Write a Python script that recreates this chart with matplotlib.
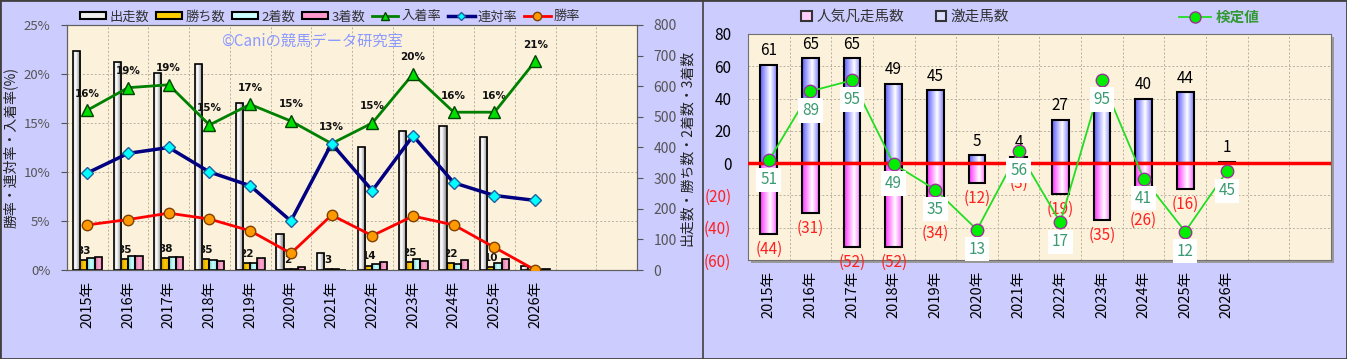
import numpy as np
import matplotlib
matplotlib.use('Agg')
import matplotlib.pyplot as plt
from matplotlib.colors import to_rgb
from matplotlib.lines import Line2D
from matplotlib.patches import Patch, Rectangle
from matplotlib.ticker import FuncFormatter, FixedLocator

plt.rcParams['font.family'] = ['Noto Sans CJK JP', 'DejaVu Sans']

BG = '#ccccff'
PLOT_BG = '#fcf2dc'
GRID = '#b8b0a0'

# ---- data ----
years = ['2015年', '2016年', '2017年', '2018年', '2019年', '2020年', '2021年',
         '2022年', '2023年', '2024年', '2025年', '2026年']
n_slots = 14

starts = [715, 680, 642, 672, 544, 118, 54, 403, 454, 471, 434, 14]
wins = [33, 35, 38, 35, 22, 2, 3, 14, 25, 22, 10, 0]
seconds = [38, 46, 42, 32, 24, 4, 4, 19, 37, 20, 23, 1]
thirds = [44, 45, 41, 30, 40, 10, 0, 27, 29, 34, 37, 2]
place_rate = [16.3, 18.6, 18.9, 14.8, 16.9, 15.2, 12.9, 15.0, 20.0, 16.1, 16.1, 21.3]
quinella_rate = [9.9, 11.9, 12.5, 10.0, 8.6, 5.0, 12.9, 8.1, 13.7, 8.9, 7.6, 7.1]
win_rate = [4.6, 5.15, 5.8, 5.2, 4.0, 1.7, 5.6, 3.5, 5.5, 4.6, 2.3, 0.0]

gekiso = [61, 65, 65, 49, 45, 5, 4, 27, 34, 40, 44, 1]
bonso = [44, 31, 52, 52, 34, 12, 3, 19, 35, 26, 16, 0]
kentei = [51, 89, 95, 49, 35, 13, 56, 17, 95, 41, 12, 45]


def make_grad(stops, n=64):
    pos = [s[0] for s in stops]
    cols = np.array([to_rgb(s[1]) for s in stops])
    t = np.linspace(0, 1, n)
    img = np.stack([np.interp(t, pos, cols[:, k]) for k in range(3)], axis=-1)
    return img[None, :, :]


def grad_bars(ax, x, vals, width, stops, z, lw=1.2):
    bars = ax.bar(x, vals, width, facecolor='none', edgecolor='black',
                  linewidth=lw, zorder=z + 0.1)
    img = make_grad(stops)
    for b in bars:
        h = b.get_height()
        if h == 0:
            continue
        x0, y0, w = b.get_x(), b.get_y(), b.get_width()
        im = ax.imshow(img, extent=(x0, x0 + w, min(y0, y0 + h), max(y0, y0 + h)),
                       aspect='auto', zorder=z, interpolation='bilinear', origin='lower')
        im.set_clip_path(b)
    return bars


fig = plt.figure(figsize=(13.47, 3.59), dpi=100, facecolor=BG)

# ─────────────────────────────────────────────────────────────
# LEFT CHART
# ─────────────────────────────────────────────────────────────
x = np.arange(len(years))
ax_c = fig.add_axes([0.0497, 0.2479, 0.4232, 0.6825])
ax_c.set_facecolor(PLOT_BG)
bw = 0.178
grad_bars(ax_c, x - 1.5 * bw, starts, bw,
          [(0, '#d8d8d8'), (0.35, '#ffffff'), (1, '#7a7a7a')], 3)
grad_bars(ax_c, x - 0.5 * bw, wins, bw,
          [(0, '#c89000'), (0.5, '#ffcc00'), (1, '#e0a800')], 2)
grad_bars(ax_c, x + 0.5 * bw, seconds, bw,
          [(0, '#70c8c8'), (0.5, '#ccffff'), (1, '#88dddd')], 2)
grad_bars(ax_c, x + 1.5 * bw, thirds, bw,
          [(0, '#d07098'), (0.5, '#ffa8d0'), (1, '#e088b0')], 2)
for xi, w in zip(x, wins):
    if w > 0:
        ax_c.text(xi - 0.5 * bw, w + 14, f'{w}', ha='center', va='bottom',
                  fontsize=7.5, fontweight='bold', family='DejaVu Sans',
                  color='#111111', zorder=2.5)

ax_c.set_xlim(-0.5, n_slots - 0.5)
ax_c.set_ylim(0, 800)
ax_c.set_yticks(np.arange(0, 801, 100))
ax_c.yaxis.set_minor_locator(FixedLocator(np.arange(160, 801, 160)))
ax_c.xaxis.set_minor_locator(FixedLocator(np.arange(0.5, n_slots - 0.5, 1)))
ax_c.grid(which='minor', color=GRID, linestyle=(0, (2, 2)), linewidth=0.7)
ax_c.set_axisbelow(True)
ax_c.set_xticks(x)
ax_c.set_xticklabels(years, rotation=90, fontsize=10.5)
ax_c.tick_params(axis='x', length=0, pad=8, colors='black')
for s in ax_c.spines.values():
    s.set_color('#606060')

ax_p = ax_c.twinx()
# twinx moves the count ticks to the left; put them back on the right
ax_c.yaxis.tick_right()
ax_c.yaxis.set_label_position('right')
ax_c.tick_params(which='minor', length=0)
ax_c.tick_params(axis='y', which='major', colors='#555555', labelsize=10, length=4, pad=8)
ax_c.set_ylabel('出走数・勝ち数・2着数・3着数', fontsize=10, color='#222222', labelpad=2)

ax_p.yaxis.tick_left()
ax_p.yaxis.set_label_position('left')
ax_p.set_ylim(0, 25)
ax_p.set_yticks(np.arange(0, 26, 5))
ax_p.yaxis.set_major_formatter(FuncFormatter(lambda v, p: f'{v:.0f}%'))
ax_p.tick_params(axis='y', colors='#555555', labelsize=9.5, length=4, pad=8)
ax_p.set_ylabel('勝率・連対率・入着率(%)', fontsize=10, color='#222222', labelpad=4)

ax_p.plot(x, place_rate, color='#008000', lw=2, marker='^', markersize=9,
          markerfacecolor='#00dd00', markeredgecolor='#004400', zorder=5)
ax_p.plot(x, quinella_rate, color='#000080', lw=2.5, marker='D', markersize=6,
          markerfacecolor='#00ffff', markeredgecolor='#2060a0', zorder=5)
ax_p.plot(x, win_rate, color='#ff0000', lw=2, marker='o', markersize=7.5,
          markerfacecolor='#ff9900', markeredgecolor='#804000', zorder=5)
for xi, v in zip(x, place_rate):
    ax_p.annotate(f'{v:.0f}%', (xi, v), xytext=(0, 12), textcoords='offset points',
                  ha='center', va='center', fontsize=7.5, fontweight='bold',
                  family='DejaVu Sans', color='#111111')
for s in ax_p.spines.values():
    s.set_color('#606060')

ax_p.text(0.27, 0.935, '©Caniの競馬データ研究室', transform=ax_p.transAxes,
          fontsize=11, color='#8c99ff', ha='left', va='center')

left_handles = [
    Patch(facecolor='#eeeeee', edgecolor='black', linewidth=1.5),
    Patch(facecolor='#ffcc00', edgecolor='black', linewidth=1.5),
    Patch(facecolor='#ccffff', edgecolor='black', linewidth=1.5),
    Patch(facecolor='#ff99cc', edgecolor='black', linewidth=1.5),
    Line2D([], [], color='#008000', lw=2, marker='^', markersize=6,
           markerfacecolor='#00dd00', markeredgecolor='#004400'),
    Line2D([], [], color='#000080', lw=2.5, marker='D', markersize=4,
           markerfacecolor='#00ffff', markeredgecolor='#2060a0'),
    Line2D([], [], color='#ff0000', lw=2, marker='o', markersize=6,
           markerfacecolor='#ff9900', markeredgecolor='#804000'),
]
left_labels = ['出走数', '勝ち数', '2着数', '3着数', '入着率', '連対率', '勝率']
leg = fig.legend(left_handles, left_labels, loc='center', bbox_to_anchor=(0.245, 0.953),
                 ncol=7, frameon=False, fontsize=9.5, handlelength=2.0, handleheight=0.45,
                 columnspacing=0.5, handletextpad=0.25, labelcolor='#333333')

# ─────────────────────────────────────────────────────────────
# RIGHT CHART
# ─────────────────────────────────────────────────────────────
r_rect = [0.5553, 0.2758, 0.4328, 0.6295]
fig.patches.append(Rectangle((r_rect[0] + 3 / 1347, r_rect[1] - 3 / 359), r_rect[2], r_rect[3],
                             transform=fig.transFigure, facecolor='#9a9a9a',
                             edgecolor='none', zorder=-1))
ax_r = fig.add_axes(r_rect)
ax_r.set_facecolor(PLOT_BG)
rbw = 0.4
grad_bars(ax_r, x, gekiso, rbw, [(0, '#5a5aff'), (0.6, '#ffffff'), (1, '#8080ff')], 2, lw=1.5)
grad_bars(ax_r, x, [-v for v in bonso], rbw,
          [(0, '#ff30ff'), (0.6, '#ffffff'), (1, '#ff66ff')], 2, lw=1.5)
ax_r.axhline(0, color='#ff0000', lw=2.5, zorder=4)
for xi, v in zip(x, gekiso):
    ax_r.annotate(f'{v}', (xi, v), xytext=(0, 4), textcoords='offset points',
                  ha='center', va='bottom', fontsize=11, color='black', zorder=5)
for xi, v in zip(x, bonso):
    if v > 0:
        ax_r.annotate(f'({v})', (xi, -v), xytext=(0, -5), textcoords='offset points',
                      ha='center', va='top', fontsize=11, color='#ff2020',
                      zorder=5, annotation_clip=False)

ax_r.set_xlim(-0.5, n_slots - 0.5)
ax_r.set_ylim(-60, 80)
ax_r.set_yticks(np.arange(-60, 81, 20))
ax_r.yaxis.set_major_formatter(FuncFormatter(
    lambda v, p: f'({abs(v):.0f})' if v < 0 else f'{v:.0f}'))
ax_r.tick_params(axis='y', length=0, pad=12, labelsize=11)
for lbl, v in zip(ax_r.get_yticklabels(), np.arange(-60, 81, 20)):
    lbl.set_color('#ff2020' if v < 0 else 'black')
ax_r.set_xticks(x)
ax_r.set_xticklabels(years, rotation=90, fontsize=10.5)
ax_r.tick_params(axis='x', length=0, pad=8)
ax_r.xaxis.set_minor_locator(FixedLocator(np.arange(0.5, n_slots - 0.5, 1)))
ax_r.grid(which='minor', axis='x', color=GRID, linestyle=(0, (2, 2)), linewidth=0.7)
ax_r.grid(which='major', axis='y', color=GRID, linestyle=(0, (2, 2)), linewidth=0.7)
ax_r.tick_params(which='minor', length=0)
ax_r.set_axisbelow(True)
for s in ax_r.spines.values():
    s.set_color('#707070')

ax_k = ax_r.twinx()
ax_k.set_ylim(-3.6, 120.4)
ax_k.axis('off')
ax_k.plot(x, kentei, color='#22dd22', lw=1.3, marker='o', markersize=9,
          markerfacecolor='#00ee00', markeredgecolor='#993399', markeredgewidth=1, zorder=5)
for xi, v in zip(x, kentei):
    ax_k.annotate(f'{v}', (xi, v), xytext=(0, -14), textcoords='offset points',
                  ha='center', va='center', fontsize=11, color='#3a9a70', zorder=6,
                  bbox=dict(boxstyle='square,pad=0.25', facecolor='white', edgecolor='none'))

r_handles = [Patch(facecolor='#ffccff', edgecolor='#333333', linewidth=1.5),
             Patch(facecolor='#ddddff', edgecolor='#333333', linewidth=1.5)]
fig.legend(r_handles, ['人気凡走馬数', '激走馬数'], loc='center', bbox_to_anchor=(0.672, 0.953),
           ncol=2, frameon=False, fontsize=10.5, handlelength=0.7, handleheight=0.7,
           columnspacing=2.2, handletextpad=0.3, labelcolor='#333333')
fig.legend([Line2D([], [], color='#22dd22', lw=1.3, marker='o', markersize=8,
                   markerfacecolor='#00ee00', markeredgecolor='#993399')],
           ['検定値'], loc='center', bbox_to_anchor=(0.905, 0.953), frameon=False,
           handlelength=2.2, handletextpad=0.3,
           prop={'weight': 'bold', 'size': 10.5}, labelcolor='#339933')

# frame and separator
fig.add_artist(Rectangle((0, 0), 1, 1, transform=fig.transFigure, fill=False,
                         edgecolor='#404040', linewidth=2, zorder=10))
fig.add_artist(Line2D([702.5 / 1347, 702.5 / 1347], [0, 1], transform=fig.transFigure,
                      color='#404040', linewidth=1.2, zorder=10))

fig.savefig('out.png', dpi=100, facecolor=BG)
